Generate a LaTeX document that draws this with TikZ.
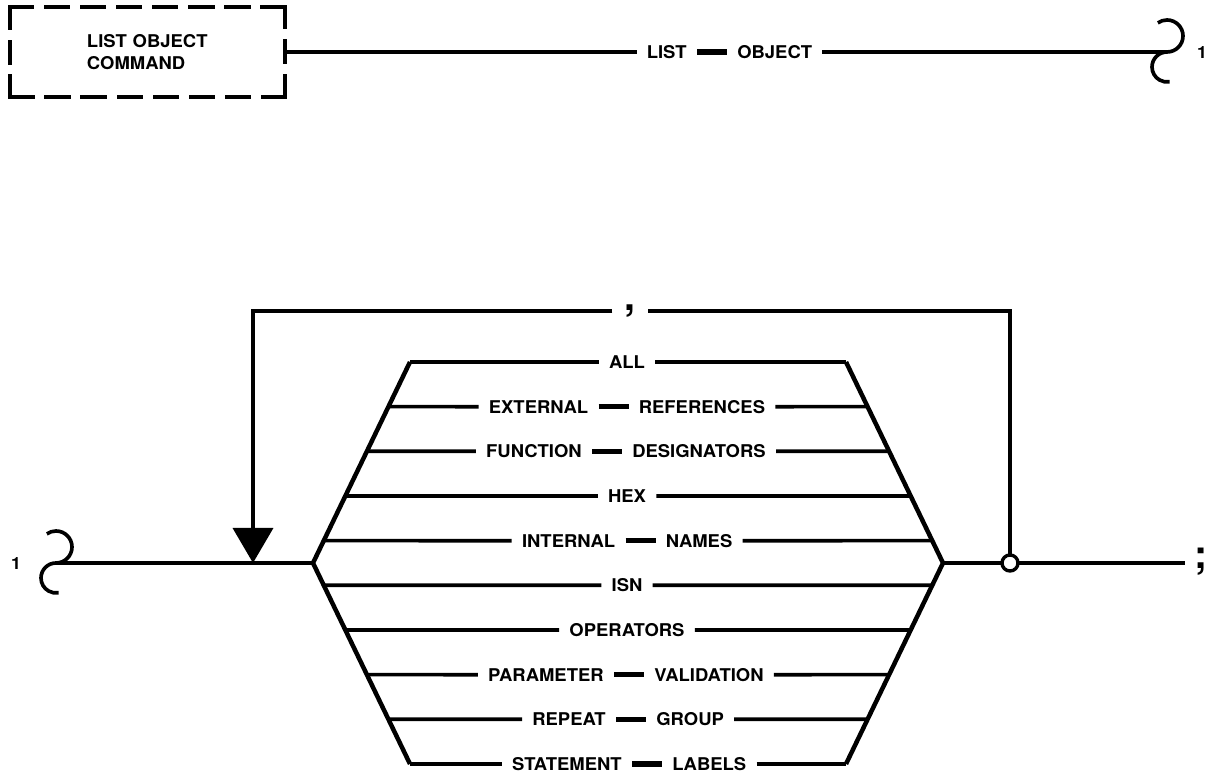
\documentclass[tikz,border=0pt]{standalone}
\usepackage{fontspec}
\setmainfont{TeX Gyre Heros}
\newfontfamily\railfont{TeX Gyre Heros}[FakeStretch=1.05]
\usepackage{tikz}
\usetikzlibrary{arrows.meta, positioning, calc}

\begin{document}
\begin{tikzpicture}[x=0.025cm, y=0.025cm, node distance=0.75cm,
    rail/.style={line width=2.6pt},
    side/.style={line width=3.2pt, line join=round},
    joiner/.style={line width=3.6pt},
    kw/.style={font=\railfont\fontsize{12.5}{14}\selectfont\bfseries, inner xsep=0.25cm, inner ysep=0pt, text height=9pt, text depth=0pt},
    num/.style={font=\railfont\fontsize{12}{14}\selectfont\bfseries},
    punct/.style={font=\fontsize{28}{30}\selectfont\bfseries, inner xsep=0.3cm, inner ysep=0pt, text height=6pt, text depth=6pt},
    cmdbox/.style={minimum height=2.25cm, text width=3.025cm, inner xsep=1.925cm, align=left,
        font=\railfont\fontsize{12.5}{15.6}\selectfont\bfseries},
    hline/.style={line width=3pt, line cap=rect, dash pattern=on 0.553cm off 0.35cm},
    vline/.style={line width=3pt, line cap=rect, dash pattern=on 0.517cm off 0.35cm},
    junction/.style={circle, draw, fill=white, line width=2.4pt, minimum size=0.4cm, inner sep=0pt},
    hook/.pic={
        \draw[rail] (0,0) arc[start angle=-90, end angle=125, radius=16];
        \draw[rail] (0,0) arc[start angle=90, end angle=280, radius=15];
    }]
    \useasboundingbox (0,0) rectangle (1210,773);

    % Command box and its line
    \node[cmdbox] (cmd) at (147.5,721) {LIST OBJECT\\COMMAND};
    \draw[hline] (cmd.north west) -- (cmd.north east);
    \draw[hline] (cmd.south east) -- (cmd.south west);
    \draw[vline] (cmd.north east) -- (cmd.south east);
    \draw[vline] (cmd.south west) -- (cmd.north west);
    \node[kw, anchor=east] (list) at (697,721) {LIST};
    \node[kw, right=of list] (object) {OBJECT};
    \coordinate (hookA) at (1167,721);
    \draw[rail] (cmd) -- (list);
    \draw[joiner] (list) -- (object);
    \draw[rail] (object) -- (hookA);
    \pic at (hookA) {hook};
    \node[num] (oneA) at (1202,720) {1};

    % Hexagon corners
    \coordinate (lv) at (313,210);
    \coordinate (rv) at (943,210);
    \coordinate (tl) at (410,411);
    \coordinate (tr) at (846,411);
    \coordinate (bl) at (410,9);
    \coordinate (br) at (846,9);
    \draw[side] (tl) -- (lv) -- (bl);
    \draw[side] (tr) -- (rv) -- (br);

    % Row ends on the sides
    \foreach \k/\t in {1/7,2/5,3/3,4/1} {
        \coordinate (l\k) at ($(lv)!\t/9!(tl)$);
        \coordinate (r\k) at ($(rv)!\t/9!(tr)$);
    }
    \foreach \k/\t in {5/1,6/3,7/5,8/7} {
        \coordinate (l\k) at ($(lv)!\t/9!(bl)$);
        \coordinate (r\k) at ($(rv)!\t/9!(br)$);
    }

    % Rows
    \node[kw] (all) at (627,411) {ALL};
    \draw[rail] (tl) -- (all) -- (tr);

    \node[kw, anchor=east] (ext) at (598.5,366.3) {EXTERNAL};
    \node[kw, right=of ext] (refs) {REFERENCES};
    \draw[rail] (l1) -- (ext);
    \draw[joiner] (ext) -- (refs);
    \draw[rail] (refs) -- (r1);

    \node[kw, anchor=east] (func) at (592,321.7) {FUNCTION};
    \node[kw, right=of func] (desig) {DESIGNATORS};
    \draw[rail] (l2) -- (func);
    \draw[joiner] (func) -- (desig);
    \draw[rail] (desig) -- (r2);

    \node[kw] (hex) at (627,277) {HEX};
    \draw[rail] (l3) -- (hex) -- (r3);

    \node[kw, anchor=east] (intern) at (625.5,232.3) {INTERNAL};
    \node[kw, right=of intern] (names) {NAMES};
    \draw[rail] (l4) -- (intern);
    \draw[joiner] (intern) -- (names);
    \draw[rail] (names) -- (r4);

    \node[kw] (isn) at (627,187.7) {ISN};
    \draw[rail] (l5) -- (isn) -- (r5);

    \node[kw] (ops) at (627,143) {OPERATORS};
    \draw[rail] (l6) -- (ops) -- (r6);

    \node[kw, anchor=east] (param) at (614,98.3) {PARAMETER};
    \node[kw, right=of param] (valid) {VALIDATION};
    \draw[rail] (l7) -- (param);
    \draw[joiner] (param) -- (valid);
    \draw[rail] (valid) -- (r7);

    \node[kw, anchor=east] (repeat) at (616,53.7) {REPEAT};
    \node[kw, right=of repeat] (group) {GROUP};
    \draw[rail] (l8) -- (repeat);
    \draw[joiner] (repeat) -- (group);
    \draw[rail] (group) -- (r8);

    \node[kw, anchor=east] (stmt) at (632,9) {STATEMENT};
    \node[kw, right=of stmt] (labels) {LABELS};
    \draw[rail] (bl) -- (stmt);
    \draw[joiner] (stmt) -- (labels);
    \draw[rail] (labels) -- (br);

    % Main line in and out
    \coordinate (hookB) at (56,210);
    \pic at (hookB) {hook};
    \node[num] (oneB) at (16,209) {1};
    \draw[rail] (hookB) -- (lv);
    \coordinate (jn) at (1010,210);
    \coordinate (railEnd) at (1185,210);
    \node[punct, anchor=base, inner xsep=0pt] (semi) at (1201,204) {;};
    \draw[rail] (rv) -- (jn) -- (railEnd);

    % Repeat loop with separator
    \coordinate (loopR) at (1010,462);
    \coordinate (loopL) at (253,462);
    \coordinate (drop) at (253,210);
    \node[punct] (comma) at (630,462) {,};
    \draw[rail] (jn) -- (loopR) -- (comma);
    \draw[rail, -{Triangle[width=1cm, length=0.875cm]}] (comma) -- (loopL) -- (drop);
    \node[junction] (jnode) at (jn) {};
\end{tikzpicture}
\end{document}
